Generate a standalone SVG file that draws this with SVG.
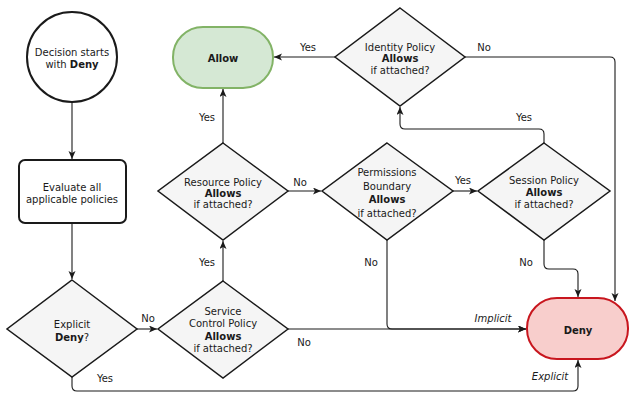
<svg xmlns="http://www.w3.org/2000/svg" width="636" height="402" viewBox="0 0 636 402">
<style>
text{font-family:"DejaVu Sans",Verdana,sans-serif;font-size:10px;fill:#1a1a1a;text-anchor:middle}
.b{font-weight:bold}
.i{font-style:italic}
.dia{fill:#f5f5f5;stroke:#1a1a1a;stroke-width:1.5}
.edge{fill:none;stroke:#1a1a1a;stroke-width:1.1;marker-end:url(#arr)}
</style>
<defs>
<marker id="arr" markerWidth="10" markerHeight="8" refX="8" refY="3.5" orient="auto" markerUnits="userSpaceOnUse">
<path d="M0,0 L8,3.5 L0,7 L2,3.5 z" fill="#1a1a1a"/>
</marker>
</defs>
<g id="connectors">
<path class="edge" d="M72,102 L72,159"/>
<path class="edge" d="M72,223 L72,279"/>
<path class="edge" d="M137,329 L157,329"/>
<path class="edge" d="M72,377 L72,386 Q72,391 77,391 L573,391 Q578,391 578,386 L578,360"/>
<path class="edge" d="M223,281 L223,241"/>
<path class="edge" d="M288,329 L526,329"/>
<path class="edge" d="M223,143 L223,89"/>
<path class="edge" d="M288,191 L321,191"/>
<path class="edge" d="M453,191 L477,191"/>
<path class="edge" d="M387,240 L387,324 Q387,329 392,329 L526,329"/>
<path class="edge" d="M544,240 L544,264 Q544,269 549,269 L573,269 Q578,269 578,274 L578,297"/>
<path class="edge" d="M544,143 L544,134 Q544,129 539,129 L405,129 Q400,129 400,124 L400,107"/>
<path class="edge" d="M335,57 L274,57"/>
<path class="edge" d="M465,57 L610,57 Q615,57 615,62 L615,301"/>
<text x="308" y="51">Yes</text>
<text x="484" y="51">No</text>
<text x="207" y="121">Yes</text>
<text x="524" y="121">Yes</text>
<text x="300" y="186">No</text>
<text x="463" y="184">Yes</text>
<text x="371" y="266">No</text>
<text x="526" y="266">No</text>
<text x="207" y="266">Yes</text>
<text x="148" y="322">No</text>
<text x="304" y="346">No</text>
<text x="105" y="382">Yes</text>
<text class="i" x="493" y="322">Implicit</text>
<text class="i" x="550" y="380">Explicit</text>
</g>
<g id="start">
<circle cx="72" cy="57" r="45" fill="#fff" stroke="#1a1a1a" stroke-width="2"/>
<text x="72" y="56">Decision starts</text>
<text x="72" y="68">with <tspan class="b">Deny</tspan></text>
</g>
<g id="evaluate">
<rect x="19" y="160" width="107" height="63" rx="6" fill="#fff" stroke="#1a1a1a" stroke-width="2"/>
<text x="72" y="191">Evaluate all</text>
<text x="72" y="203">applicable policies</text>
</g>
<g id="explicit-deny">
<polygon class="dia" points="72,280 137,329 72,377 7,329"/>
<text x="72" y="328">Explicit</text>
<text x="72" y="341"><tspan class="b">Deny</tspan>?</text>
</g>
<g id="scp">
<polygon class="dia" points="223,281 288,329 223,378 158,329"/>
<text x="223" y="315">Service</text>
<text x="223" y="327">Control Policy</text>
<text x="223" y="340" class="b">Allows</text>
<text x="223" y="352">if attached?</text>
</g>
<g id="resource">
<polygon class="dia" points="223,143 288,191 223,240 158,191"/>
<text x="223" y="186">Resource Policy</text>
<text x="223" y="197" class="b">Allows</text>
<text x="223" y="208">if attached?</text>
</g>
<g id="allow">
<rect x="173" y="27" width="100" height="61" rx="30" fill="#d5e8d4" stroke="#82b366" stroke-width="2"/>
<text x="223" y="62" class="b">Allow</text>
</g>
<g id="identity">
<polygon class="dia" points="400,8 465,57 400,106 335,57"/>
<text x="400" y="51">Identity Policy</text>
<text x="400" y="62" class="b">Allows</text>
<text x="400" y="74">if attached?</text>
</g>
<g id="boundary">
<polygon class="dia" points="387,143 453,191 387,240 322,191"/>
<text x="387" y="176">Permissions</text>
<text x="387" y="190">Boundary</text>
<text x="387" y="203" class="b">Allows</text>
<text x="387" y="217">if attached?</text>
</g>
<g id="session">
<polygon class="dia" points="544,143 610,191 544,240 478,191"/>
<text x="544" y="184">Session Policy</text>
<text x="544" y="196" class="b">Allows</text>
<text x="544" y="208">if attached?</text>
</g>
<g id="deny">
<rect x="527" y="298" width="101" height="61" rx="30" fill="#f8cecc" stroke="#c8161e" stroke-width="2"/>
<text x="578" y="334" class="b">Deny</text>
</g>
</svg>
